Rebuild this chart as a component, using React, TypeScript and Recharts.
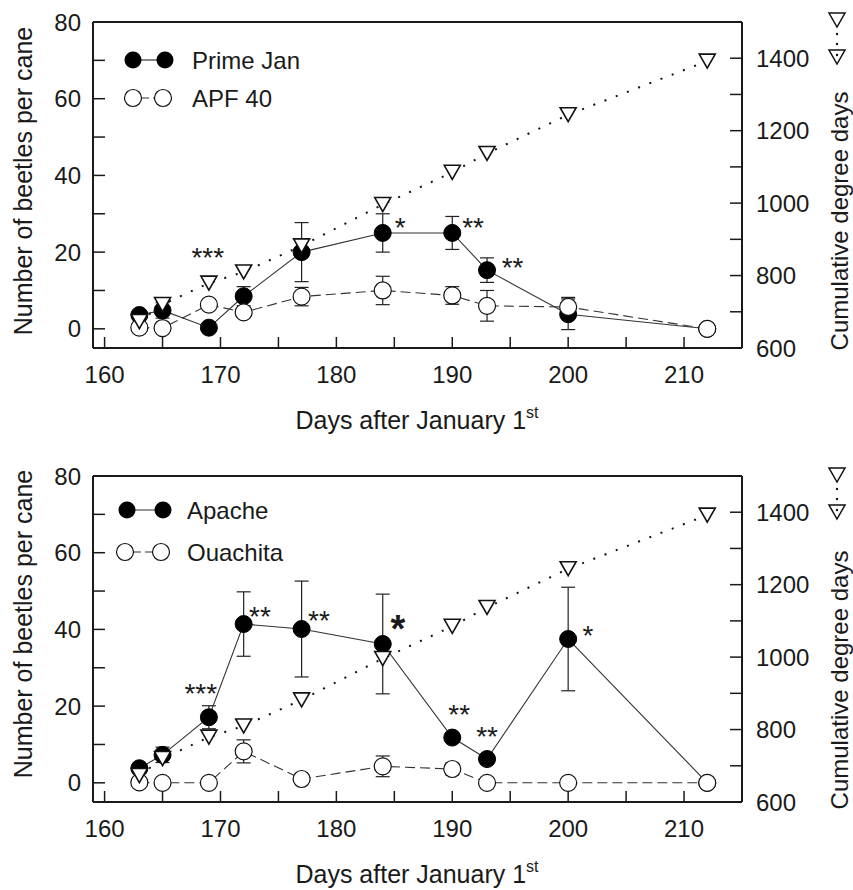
import React from 'react';
import { ComposedChart, Line, XAxis, YAxis, ErrorBar, ReferenceDot, ReferenceLine } from 'recharts';

// ---------- data ----------
const days = [163, 165, 169, 172, 177, 184, 190, 193, 200, 212];
const degreeDays = [673, 720, 779, 810, 882, 996, 1085, 1137, 1244, 1392];

const primeJan = [3.6, 4.8, 0.3, 8.5, 20, 25, 25, 15.3, 3.8, 0];
const primeJanErr = [0, 2, 0, 2.5, 7.7, 5, 4.3, 3.2, 4, 0];
const apf40 = [0.3, 0.2, 6.3, 4.3, 8.4, 10, 8.7, 6, 5.7, 0];
const apf40Err = [0, 0, 0, 0, 2.4, 3.7, 2.3, 4, 2.5, 0];

const apache = [3.8, 7.3, 17.1, 41.4, 40.1, 36.2, 11.8, 6.2, 37.5, 0];
const apacheErr = [0, 2, 3, 8.4, 12.5, 13, 0, 0, 13.5, 0];
const ouachita = [0.1, 0, 0, 8.2, 1, 4.3, 3.6, 0, 0, 0];
const ouachitaErr = [0, 0, 0, 3, 0, 2.7, 1.5, 0, 0, 0];

const topSigDays = [168.9, 185.5, 191.8, 195.2];
const topSigLevels = [20.3, 28.2, 28.2, 17.7];
const topSigMarks = ['***', '*', '**', '**'];

const bottomSigDays = [168.3, 173.4, 178.5, 185.3, 190.6, 193.0, 201.7];
const bottomSigLevels = [25.0, 45.1, 44.1, 42.5, 19.5, 13.8, 40.3];
const bottomSigMarks = ['***', '**', '**', '*', '**', '**', '*'];

const xTicks = [160, 165, 170, 175, 180, 185, 190, 195, 200, 205, 210];
const xLabels = [160, 170, 180, 190, 200, 210];
const leftTicks = [0, 10, 20, 30, 40, 50, 60, 70, 80];
const leftLabels = [0, 20, 40, 60, 80];
const rightTicks = [600, 700, 800, 900, 1000, 1100, 1200, 1300, 1400, 1500];
const rightLabels = [600, 800, 1000, 1200, 1400];

// ---------- style ----------
const FONT = '"Liberation Sans", Arial, Helvetica, sans-serif';
const INK = '#1a1a1a';
const bigStarIndex = 3; // bottom panel: larger asterisk

const buildRows = (a: number[], aErr: number[], b: number[], bErr: number[]) =>
  days.map((d, i) => ({
    day: d,
    a: a[i],
    aErr: aErr[i] ? aErr[i] : null,
    b: b[i],
    bErr: bErr[i] ? bErr[i] : null,
    dd: degreeDays[i],
  }));

const XTick = (p: any) => {
  const { x, y, payload } = p;
  return (
    <g>
      <line x1={x} x2={x} y1={y} y2={y - 11} stroke={INK} strokeWidth={1.5} />
      {xLabels.includes(payload.value) && (
        <text x={x} y={y + 35} textAnchor="middle" fontFamily={FONT} fontSize={24} fill={INK}>
          {payload.value}
        </text>
      )}
    </g>
  );
};

const LeftTick = (p: any) => {
  const { x, y, payload } = p;
  return (
    <g>
      <line x1={x} x2={x + 12} y1={y} y2={y} stroke={INK} strokeWidth={1.5} />
      {leftLabels.includes(payload.value) && (
        <text x={x - 12} y={y + 8.5} textAnchor="end" fontFamily={FONT} fontSize={24} fill={INK}>
          {payload.value}
        </text>
      )}
    </g>
  );
};

const RightTick = (p: any) => {
  const { x, y, payload } = p;
  return (
    <g>
      <line x1={x - 12} x2={x} y1={y} y2={y} stroke={INK} strokeWidth={1.5} />
      {rightLabels.includes(payload.value) && (
        <text x={x + 14} y={y + 8.5} textAnchor="start" fontFamily={FONT} fontSize={24} fill={INK}>
          {payload.value}
        </text>
      )}
    </g>
  );
};

const filledDot = (p: any) => (
  <circle key={`f${p.index}`} cx={p.cx} cy={p.cy} r={8.5} fill="#000" stroke="#000" strokeWidth={1} />
);
const openDot = (p: any) => (
  <circle key={`o${p.index}`} cx={p.cx} cy={p.cy} r={8.5} fill="#fff" stroke="#111" strokeWidth={1.2} />
);
const triPath = (cx: number, cy: number) =>
  `M${cx - 8},${cy - 7} L${cx + 8},${cy - 7} L${cx},${cy + 7} Z`;
const triDot = (p: any) => (
  <path key={`t${p.index}`} d={triPath(p.cx, p.cy)} fill="#fff" stroke="#111" strokeWidth={1.6} strokeLinejoin="miter" />
);

type PanelProps = {
  top: number;
  rows: any[];
  sigDays: number[];
  sigLevels: number[];
  sigMarks: string[];
  bigIndex?: number;
  labelA: string;
  labelB: string;
  legend: { fy: number; fx1: number; fx2: number; oy: number; ox1: number; ox2: number; tx: number };
  leftTitleY: number;
  rightTitleY: number;
  symY: number;
  xTitleY: number;
};

function Panel(props: PanelProps) {
  const { top, rows, sigDays, sigLevels, sigMarks, bigIndex, labelA, labelB, legend } = props;
  return (
    <div style={{ position: 'absolute', left: 0, top, width: 853, height: 440 }}>
      <ComposedChart width={853} height={440} data={rows} margin={{ top: 22, right: 0, bottom: 0, left: 0 }}>
        <XAxis
          dataKey="day"
          type="number"
          domain={[159, 215]}
          ticks={xTicks}
          interval={0}
          height={92}
          tickSize={0}
          tickMargin={0}
          tickLine={false}
          tick={(p: any) => <XTick {...p} />}
          axisLine={{ stroke: INK, strokeWidth: 2 }}
        />
        <YAxis
          yAxisId="left"
          orientation="left"
          width={93}
          type="number"
          domain={[-5, 80]}
          ticks={leftTicks}
          interval={0}
          tickSize={0}
          tickMargin={0}
          tickLine={false}
          tick={(p: any) => <LeftTick {...p} />}
          axisLine={{ stroke: INK, strokeWidth: 2 }}
        />
        <YAxis
          yAxisId="right"
          orientation="right"
          width={111}
          type="number"
          domain={[600, 1500]}
          ticks={rightTicks}
          interval={0}
          tickSize={0}
          tickMargin={0}
          tickLine={false}
          tick={(p: any) => <RightTick {...p} />}
          axisLine={{ stroke: INK, strokeWidth: 2 }}
        />
        <ReferenceLine yAxisId="left" y={80} stroke={INK} strokeWidth={2} />
        <Line
          yAxisId="left"
          dataKey="a"
          stroke="#333"
          strokeWidth={1.1}
          dot={filledDot}
          activeDot={false}
          isAnimationActive={false}
        >
          <ErrorBar dataKey="aErr" direction="y" width={7} stroke="#222" strokeWidth={1.2} />
        </Line>
        <Line
          yAxisId="left"
          dataKey="b"
          stroke="#333"
          strokeWidth={1.1}
          strokeDasharray="10 5"
          dot={openDot}
          activeDot={false}
          isAnimationActive={false}
        >
          <ErrorBar dataKey="bErr" direction="y" width={7} stroke="#222" strokeWidth={1.2} />
        </Line>
        <Line
          yAxisId="right"
          dataKey="dd"
          stroke="#111"
          strokeWidth={2}
          strokeDasharray="2 10"
          dot={triDot}
          activeDot={false}
          isAnimationActive={false}
        />
        {sigDays.map((d, i) => (
          <ReferenceDot
            key={`s${i}`}
            yAxisId="left"
            x={d}
            y={sigLevels[i]}
            r={0}
            shape={(p: any) => {
              const big = i === bigIndex;
              const fs = big ? 38 : 28;
              return (
                <text
                  x={p.cx}
                  y={p.cy + fs * 0.58}
                  textAnchor="middle"
                  fontFamily={FONT}
                  fontSize={fs}
                  fontWeight={big ? 'bold' : 'normal'}
                  fill={INK}
                >
                  {sigMarks[i]}
                </text>
              );
            }}
          />
        ))}
      </ComposedChart>
      <svg
        width={853}
        height={440}
        style={{ position: 'absolute', left: 0, top: 0, pointerEvents: 'none', overflow: 'visible' }}
      >
        {/* legend */}
        <line x1={legend.fx1} x2={legend.fx2} y1={legend.fy} y2={legend.fy} stroke="#333" strokeWidth={1.2} />
        <circle cx={legend.fx1} cy={legend.fy} r={8.5} fill="#000" />
        <circle cx={legend.fx2} cy={legend.fy} r={8.5} fill="#000" />
        <text x={legend.tx} y={legend.fy + 8.5} fontFamily={FONT} fontSize={24} fill={INK}>
          {labelA}
        </text>
        <line x1={legend.ox1} x2={legend.ox2} y1={legend.oy} y2={legend.oy} stroke="#333" strokeWidth={1.2} strokeDasharray="7 4" strokeDashoffset={-9} />
        <circle cx={legend.ox1} cy={legend.oy} r={8.5} fill="#fff" stroke="#111" strokeWidth={1.2} />
        <circle cx={legend.ox2} cy={legend.oy} r={8.5} fill="#fff" stroke="#111" strokeWidth={1.2} />
        <text x={legend.tx} y={legend.oy + 8.5} fontFamily={FONT} fontSize={24} fill={INK}>
          {labelB}
        </text>
        {/* left title */}
        <text
          transform={`translate(23, ${props.leftTitleY}) rotate(-90)`}
          textAnchor="middle"
          y={8.5}
          fontFamily={FONT}
          fontSize={25}
          fill={INK}
        >
          Number of beetles per cane
        </text>
        {/* right title */}
        <text
          transform={`translate(839, ${props.rightTitleY}) rotate(-90)`}
          textAnchor="middle"
          y={8.5}
          fontFamily={FONT}
          fontSize={24}
          fill={INK}
        >
          Cumulative degree days
        </text>
        {/* right legend symbol */}
        <path d={triPath(837, props.symY)} fill="#fff" stroke="#111" strokeWidth={1.5} />
        <path d={triPath(837, props.symY + 37)} fill="#fff" stroke="#111" strokeWidth={1.5} />
        <circle cx={837} cy={props.symY + 14} r={1.2} fill="#111" />
        <circle cx={837} cy={props.symY + 24} r={1.2} fill="#111" />
        <circle cx={837} cy={props.symY + 35} r={1.2} fill="#111" />
        {/* x title */}
        <text x={417} y={props.xTitleY} textAnchor="middle" fontFamily={FONT} fontSize={25} fill={INK}>
          Days after January 1
          <tspan fontSize={16} dy={-11}>st</tspan>
        </text>
      </svg>
    </div>
  );
}

export default function App() {
  const topRows = buildRows(primeJan, primeJanErr, apf40, apf40Err);
  const bottomRows = buildRows(apache, apacheErr, ouachita, ouachitaErr);
  return (
    <div style={{ position: 'absolute', left: 0, top: 0, width: 853, height: 890, background: '#fff', overflow: 'hidden' }}>
      <Panel
        top={0}
        rows={topRows}
        sigDays={topSigDays}
        sigLevels={topSigLevels}
        sigMarks={topSigMarks}
        labelA="Prime Jan"
        labelB="APF 40"
        legend={{ fy: 60, fx1: 133, fx2: 165, oy: 98, ox1: 133, ox2: 163, tx: 192 }}
        leftTitleY={181}
        rightTitleY={221}
        symY={20}
        xTitleY={429}
      />
      <Panel
        top={454}
        rows={bottomRows}
        sigDays={bottomSigDays}
        sigLevels={bottomSigLevels}
        sigMarks={bottomSigMarks}
        bigIndex={bigStarIndex}
        labelA="Apache"
        labelB="Ouachita"
        legend={{ fy: 56, fx1: 127, fx2: 163, oy: 98, ox1: 125, ox2: 161, tx: 187 }}
        leftTitleY={170}
        rightTitleY={226}
        symY={21}
        xTitleY={429}
      />
    </div>
  );
}
